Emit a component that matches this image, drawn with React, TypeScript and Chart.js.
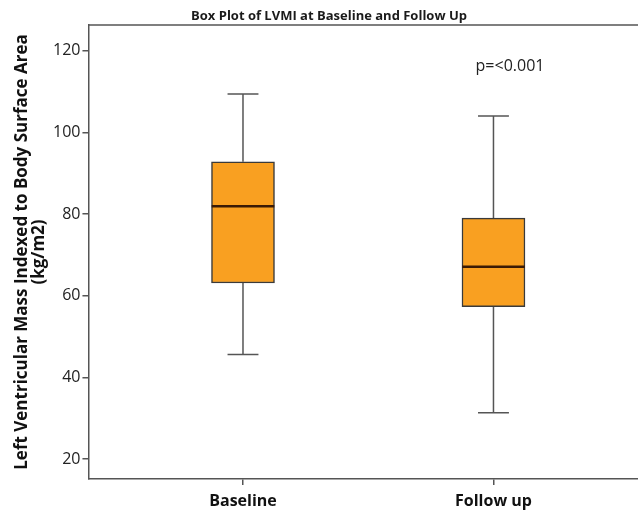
import React, { useEffect, useRef } from "react";
import { Chart, registerables } from "chart.js";

Chart.register(...registerables);

const categories = ["Baseline", "Follow up"];
const positions = [1, 2];
const mins = [45.6, 31.3];
const q1s = [63.1, 57.3];
const medians = [81.9, 67.1];
const q3s = [92.8, 79.0];
const maxs = [109.4, 104.0];
const yTicks = [20, 40, 60, 80, 100, 120];
const chartTitle = "Box Plot of LVMI at Baseline and Follow Up";
const pText = "p=<0.001";
const pPos = [2.066, 116.1];

const FONT = "'Open Sans', 'DejaVu Sans', sans-serif";

const boxPlugin = {
  id: "boxExtras",
  beforeDatasetsDraw(chart: any) {
    const { ctx, scales } = chart;
    const x = scales.x, y = scales.y;
    ctx.save();
    ctx.strokeStyle = "#555";
    ctx.lineWidth = 1.5;
    positions.forEach((p, i) => {
      const cx = x.getPixelForValue(p);
      const capHalf = x.getPixelForValue(p + 0.0617) - cx;
      [[maxs[i], q3s[i]], [mins[i], q1s[i]]].forEach(([a, b]) => {
        const ya = y.getPixelForValue(a), yb = y.getPixelForValue(b);
        ctx.beginPath();
        ctx.moveTo(cx, ya);
        ctx.lineTo(cx, yb);
        ctx.moveTo(cx - capHalf, ya);
        ctx.lineTo(cx + capHalf, ya);
        ctx.stroke();
      });
    });
    ctx.restore();
  },
  afterDatasetsDraw(chart: any) {
    const { ctx, scales, chartArea } = chart;
    const x = scales.x, y = scales.y;
    ctx.save();
    ctx.strokeStyle = "#3a1a05";
    ctx.lineWidth = 2.5;
    positions.forEach((p, i) => {
      const cx = x.getPixelForValue(p);
      const half = x.getPixelForValue(p + 0.125) - cx;
      const ym = y.getPixelForValue(medians[i]);
      ctx.beginPath();
      ctx.moveTo(cx - half, ym);
      ctx.lineTo(cx + half, ym);
      ctx.stroke();
    });
    // frame top
    ctx.strokeStyle = "#555";
    ctx.lineWidth = 1.5;
    ctx.beginPath();
    ctx.moveTo(chartArea.left, chartArea.top);
    ctx.lineTo(chartArea.right, chartArea.top);
    ctx.stroke();
    // p label
    ctx.fillStyle = "#222";
    ctx.font = `16px ${FONT}`;
    ctx.textAlign = "center";
    ctx.textBaseline = "middle";
    ctx.fillText(pText, x.getPixelForValue(pPos[0]), y.getPixelForValue(pPos[1]));
    // chart title
    ctx.fillStyle = "#1a1a1a";
    ctx.font = `bold 13px ${FONT}`;
    ctx.fillText(chartTitle, 329, 16);
    ctx.restore();
  },
};

export default function App() {
  const ref = useRef<HTMLCanvasElement>(null);
  useEffect(() => {
    document.body.style.margin = "0";
    const chart = new Chart(ref.current!, {
      type: "bar",
      data: {
        datasets: [
          {
            data: positions.map((p, i) => ({ x: p, y: [q1s[i], q3s[i]] })) as any,
            backgroundColor: "#F9A021",
            borderColor: "#3a3a3a",
            borderWidth: 1.5,
            borderSkipped: false,
            barThickness: 63,
          },
        ],
      },
      options: {
        animation: false,
        responsive: false,
        plugins: {
          legend: { display: false },
          tooltip: { enabled: false },
          title: { display: false },
        },
        layout: { padding: { left: 14, right: 0, top: 25, bottom: -4 } },
        scales: {
          x: {
            type: "linear",
            min: 0.383,
            max: 2.577,
            offset: false,
            afterBuildTicks: (axis: any) => {
              axis.ticks = positions.map((v) => ({ value: v }));
            },
            ticks: {
              callback: (v: any) => categories[positions.indexOf(Number(v))] ?? "",
              color: "#111",
              font: { family: FONT, size: 16, weight: "bold", lineHeight: 1.0 },
              padding: 8,
              autoSkip: false,
              maxRotation: 0,
            },
            grid: { display: true, offset: false, drawOnChartArea: false, drawTicks: true, tickLength: 6, color: "#555", lineWidth: 1.5 },
            border: { display: true, color: "#555", width: 1.5 },
          },
          y: {
            type: "linear",
            min: 15.1,
            max: 126.3,
            afterBuildTicks: (axis: any) => {
              axis.ticks = yTicks.map((v) => ({ value: v }));
            },
            ticks: {
              color: "#222",
              font: { family: FONT, size: 16 },
              padding: 2,
            },
            grid: { display: true, drawOnChartArea: false, drawTicks: true, tickLength: 6, color: "#555", lineWidth: 1.5 },
            border: { display: true, color: "#555", width: 1.5 },
            title: {
              display: true,
              text: ["Left Ventricular Mass Indexed to Body Surface Area", "(kg/m2)"],
              color: "#111",
              font: { family: FONT, size: 17, weight: "bold", lineHeight: 1.0 },
              padding: { top: 0, bottom: 3 },
            },
          },
        },
      } as any,
      plugins: [boxPlugin],
    });
    return () => chart.destroy();
  }, []);
  return <canvas ref={ref} width={638} height={513} style={{ display: "block" }} />;
}
